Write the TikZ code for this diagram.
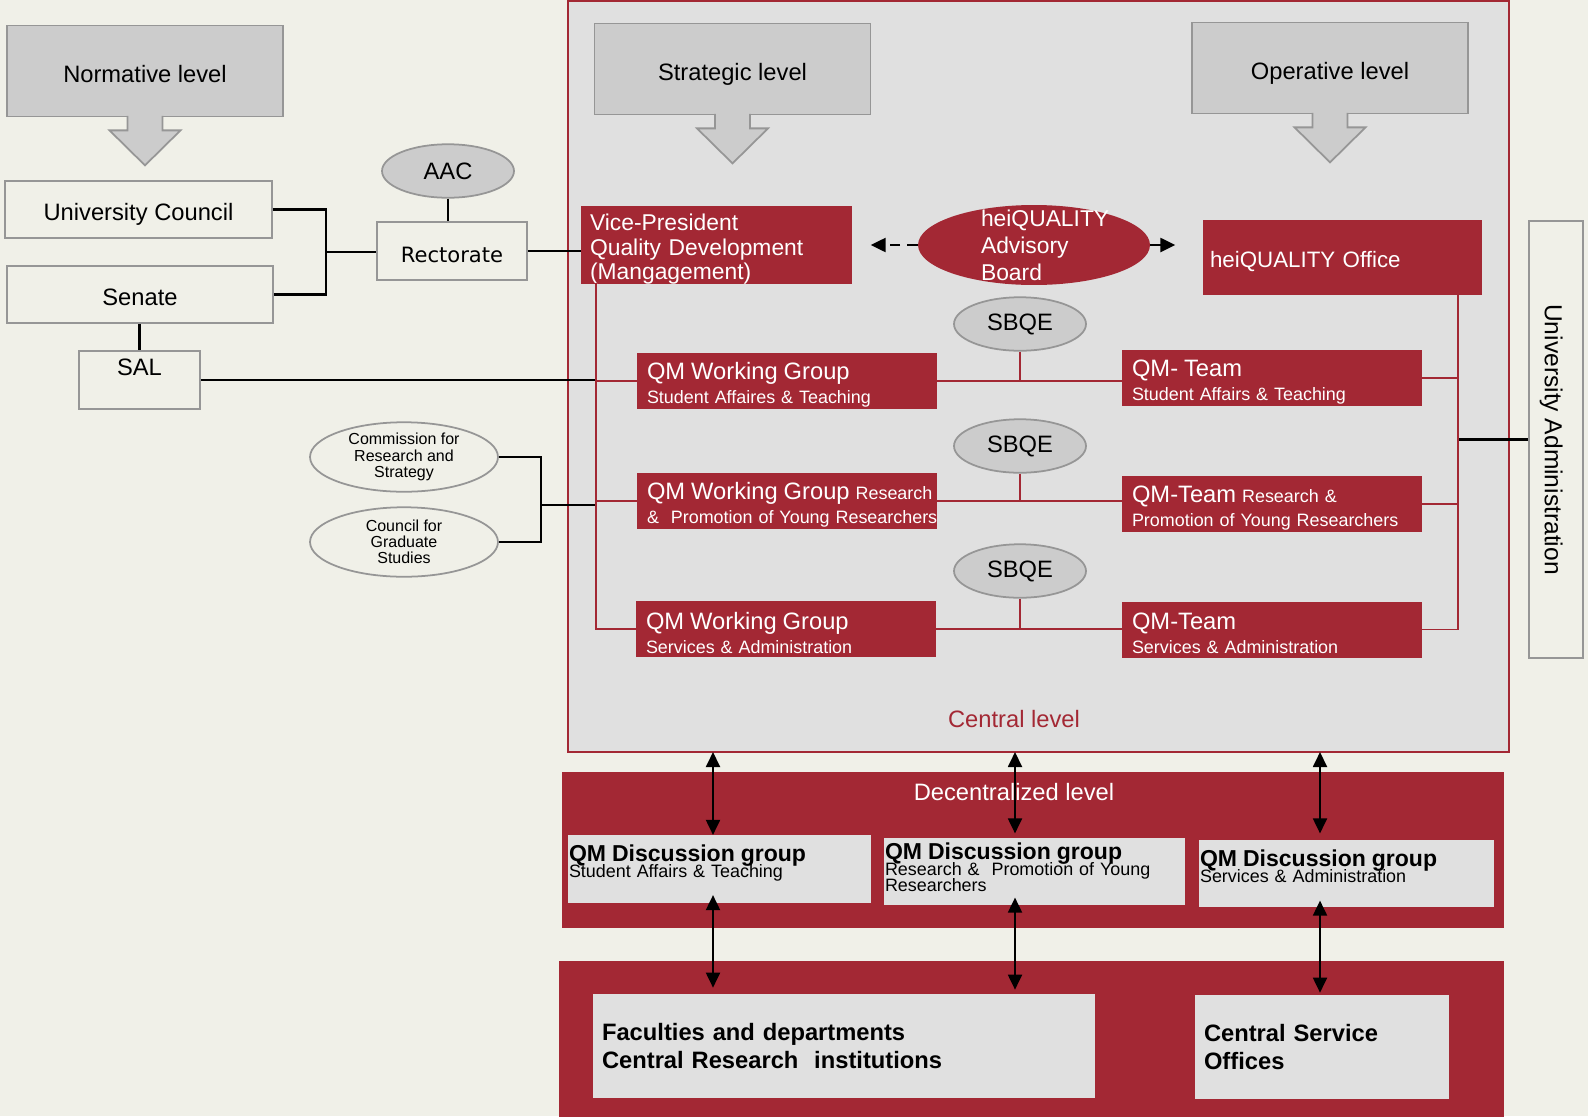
\documentclass[tikz,border=0pt]{standalone}
\usepackage{fontspec}
\setmainfont{Liberation Sans}
\newfontfamily\rectfont{DejaVu Sans}
\usetikzlibrary{arrows.meta, shapes.geometric}

\definecolor{qmred}{RGB}{163,40,52}
\definecolor{bgcream}{RGB}{240,240,232}
\definecolor{centralgrey}{RGB}{224,224,224}
\definecolor{lvlgrey}{RGB}{204,204,204}
\definecolor{edgegrey}{RGB}{150,150,150}

\newcommand{\qmbig}{\fontsize{13.5}{13.7}\selectfont}
\newcommand{\qmbold}{\bfseries\fontsize{13.1}{9}\selectfont}
\newcommand{\dgfont}{\fontsize{10.2}{9}\selectfont\lineskiplimit=-20pt}
\newcommand{\lift}[1]{\rule[-#1]{0pt}{0pt}}

\begin{document}
\begin{tikzpicture}[x=0.02cm, y=-0.02cm,
			lvlbox/.style = {draw=edgegrey, fill=lvlgrey, line width=1pt, minimum width=5.52cm, minimum height=1.82cm, text height=0.45cm, text depth=0pt, font=\fontsize{13.5}{16}\selectfont},
			lvlarrow/.style = {draw=edgegrey, fill=lvlgrey, line width=1pt},
			whitebox/.style = {draw=edgegrey, fill=bgcream, line width=1pt, inner ysep=0pt, text height=0.45cm, text depth=0pt, font=\fontsize{13.5}{16}\selectfont},
			greyoval/.style = {ellipse, draw=edgegrey, fill=lvlgrey, line width=1pt, minimum width=2.64cm, minimum height=1.07cm, inner sep=0pt, font=\fontsize{13.5}{16}\selectfont},
			creamoval/.style = {ellipse, draw=edgegrey, fill=bgcream, line width=1pt, minimum width=3.76cm, minimum height=1.39cm, inner sep=0pt, align=center, font=\fontsize{9.1}{9.2}\selectfont},
			advisory/.style = {ellipse, fill=qmred, text=white, minimum width=4.64cm, minimum height=1.6cm, inner sep=0pt, font=\fontsize{13}{15.4}\selectfont},
			redbox/.style = {fill=qmred, text=white, align=left, inner xsep=0.2cm, inner ysep=0pt, text width=5.6cm, text height=0.5cm, minimum height=1.12cm, font=\fontsize{10.2}{13.7}\selectfont},
			redpanel/.style = {fill=qmred, inner sep=0pt},
			central/.style = {draw=qmred, fill=centralgrey, line width=1.1pt, inner sep=0pt, minimum width=18.82cm, minimum height=15.02cm},
			dgbox/.style = {fill=centralgrey, align=left, inner xsep=0.02cm, inner ysep=0pt, minimum height=1.35cm, font=\dgfont},
			locunit/.style = {fill=centralgrey, align=left, inner xsep=0.18cm, inner ysep=0pt, minimum height=2.08cm, font=\bfseries\fontsize{13.5}{15.4}\selectfont},
			conn/.style = {line width=1.2pt, black},
			redline/.style = {line width=1.1pt, qmred},
			dasharrow/.style = {line width=1.3pt, dash pattern=on 6pt off 4pt, -{Triangle[length=0.3cm, width=0.28cm]}},
			dbl/.style = {line width=1.1pt, {Triangle[length=0.3cm, width=0.28cm]}-{Triangle[length=0.3cm, width=0.28cm]}}]
	\fill [bgcream] (0,0) rectangle (1588,1116);
	\useasboundingbox (0,0) rectangle (1588,1116);

	% frames of the three levels
	\node [central] (central) at (1038.5,376.5) {};
	\node [text=qmred, font=\fontsize{13.5}{16}\selectfont] (centraltxt) at (1014,719) {Central level};
	\node [redpanel, minimum width=18.84cm, minimum height=3.12cm] (decbox) at (1033,850) {};
	\node [text=white, font=\fontsize{13.5}{16}\selectfont] (dectxt) at (1014,792) {Decentralized level};
	\node [redpanel, minimum width=18.9cm, minimum height=3.18cm] (locbox) at (1031.5,1040.5) {};

	% level headings
	\node [lvlbox] (norm) at (145,71) {Normative level};
	\node [lvlbox] (strat) at (732.5,69) {Strategic level};
	\node [lvlbox] (oper) at (1330,68) {Operative level};
	\foreach \lv in {norm,strat,oper}
		\filldraw [lvlarrow] ([xshift=-0.35cm,yshift=0.03cm]\lv.south) -- ++(0,14.5) -- ++(-18,0) -- ++(35.5,35) -- ++(35.5,-35) -- ++(-18,0) -- ++(0,-14.5);

	% normative bodies
	\node [whitebox, minimum width=5.34cm, minimum height=1.14cm] (uc) at (138.5,209.5) {University Council};
	\node [whitebox, minimum width=5.32cm, minimum height=1.14cm] (senate) at (140,294.5) {Senate};
	\node [whitebox, text depth=0.62cm, minimum width=2.42cm, minimum height=1.16cm] (sal) at (139.5,380) {SAL};
	\node [whitebox, font=\rectfont\fontsize{12}{14}\selectfont, minimum width=3cm, minimum height=1.16cm] (rect) at (452,251) {Rectorate};
	\node [greyoval] (aac) at (448,171) {AAC};
	\node [creamoval] (comm) at (404,457) {Commission for\\Research and\\Strategy};
	\node [creamoval] (council) at (404,542) {Council for\\Graduate\\Studies};

	% central level
	\node [redbox, font=\fontsize{13}{14}\selectfont, inner xsep=0.18cm, text width=5.06cm, minimum height=1.52cm] (vp) at (716.5,245) {Vice-President\\Quality Development\\(Mangagement)};
	\node [advisory] (hqab) at (1034,245) {\smash{\raisebox{-3pt}{\parbox[c]{2.12cm}{\raggedright heiQUALITY\\Advisory\\Board}}}};
	\node [redbox, font=\fontsize{12.7}{14}\selectfont, inner xsep=0.14cm, text width=5.3cm, minimum height=1.5cm] (office) at (1342.5,257.5) {heiQUALITY Office};
	\foreach \i/\y in {1/324, 2/446, 3/571}
		\node [greyoval] (sbqe\i) at (1020,\y) {SBQE};
	\node [redbox] (wg1) at (787,381) {{\qmbig QM Working Group}\\Student Affaires \& Teaching};
	\node [redbox] (wg2) at (787,501) {\mbox{{\qmbig QM Working Group} Research}\\\mbox{\&~~Promotion of Young Researchers}};
	\node [redbox] (wg3) at (786,629) {{\qmbig QM Working Group}\\Services \& Administration};
	\node [redbox] (team1) at (1272,378) {{\qmbig QM- Team}\\Student Affairs \& Teaching};
	\node [redbox] (team2) at (1272,504) {{\qmbig QM-Team} Research \&\\Promotion of Young Researchers};
	\node [redbox] (team3) at (1272,629.5) {{\qmbig QM-Team}\\Services \& Administration};
	\node [whitebox, rotate=-90, minimum width=8.74cm, minimum height=1.08cm, font=\fontsize{14}{16}\selectfont] (ua) at (1556,439.5) {University Administration};

	% decentralized level
	\node [dgbox, text width=6.02cm] (dg1) at (719.5,869) {{\qmbold QM Discussion group}\\Student Affairs \& Teaching\lift{0.3cm}};
	\node [dgbox, text width=5.98cm] (dg2) at (1034.5,871.5) {{\qmbold QM Discussion group}\\Research \&~ Promotion of Young\\Researchers\lift{0.18cm}};
	\node [dgbox, text width=5.86cm] (dg3) at (1346.5,873.5) {{\qmbold QM Discussion group}\\Services \& Administration\lift{0.28cm}};
	\node [locunit, text width=9.68cm] (fac) at (844,1046) {Faculties and departments\\Central Research~~institutions};
	\node [locunit, text width=4.72cm] (csvc) at (1322,1047) {Central Service\\Offices};

	\coordinate (brk) at (326,252);
	\coordinate (brk2) at (541,505);
	\coordinate (lbus) at (596,283);
	\coordinate (rbus) at (1458,295);
	\coordinate (c1) at (713,752);
	\coordinate (c2) at (1015,752);
	\coordinate (c3) at (1320,752);

	% black connectors
	\draw [conn] (uc.east) -| (brk) |- (senate.east);
	\draw [conn] (brk) -- (brk -| rect.west);
	\draw [conn] (aac.south) -- (aac.south |- rect.north);
	\draw [conn] (sal.north |- senate.south) -- (sal.north);
	\draw [conn] (rect.east) -- (rect.east -| vp.west);
	\draw [conn] (sal.east) -- (sal.east -| lbus);
	\draw [conn] (comm.east) -| (brk2) |- (council.east);
	\draw [conn] (brk2) -- (brk2 -| lbus);
	\draw [conn] (ua.south) -- (ua.south -| rbus);

	% red connectors
	\draw [redline] (lbus) |- (wg3.west);
	\draw [redline] (lbus |- wg1.west) -- (wg1.west);
	\draw [redline] (lbus |- wg2.west) -- (wg2.west);
	\draw [redline] (rbus) |- (team3.east);
	\draw [redline] (rbus |- team1.east) -- (team1.east);
	\draw [redline] (rbus |- team2.east) -- (team2.east);
	\foreach \i in {1,2,3} {
		\draw [redline] (wg\i.east) -- (wg\i.east -| team\i.west);
		\draw [redline] (sbqe\i.south) -- (sbqe\i.south |- wg\i.east);
	}

	% arrows
	\draw [dasharrow] (hqab.west) -- ++(-47,0);
	\draw [dasharrow] (hqab.east) -- ++(25,0);
	\draw [dbl] (c1) -- (c1 |- dg1.north);
	\draw [dbl, shorten <=-0.16cm, shorten >=0.12cm] (c1 |- dg1.south) -- (c1 |- fac.north);
	\draw [dbl, shorten >=0.08cm] (c2) -- (c2 |- dg2.north);
	\draw [dbl, shorten <=-0.16cm, shorten >=0.08cm] (c2 |- dg2.south) -- (c2 |- fac.north);
	\draw [dbl, shorten >=0.12cm] (c3) -- (c3 |- dg3.north);
	\draw [dbl, shorten <=-0.14cm, shorten >=0.04cm] (c3 |- dg3.south) -- (c3 |- csvc.north);
\end{tikzpicture}
\end{document}
